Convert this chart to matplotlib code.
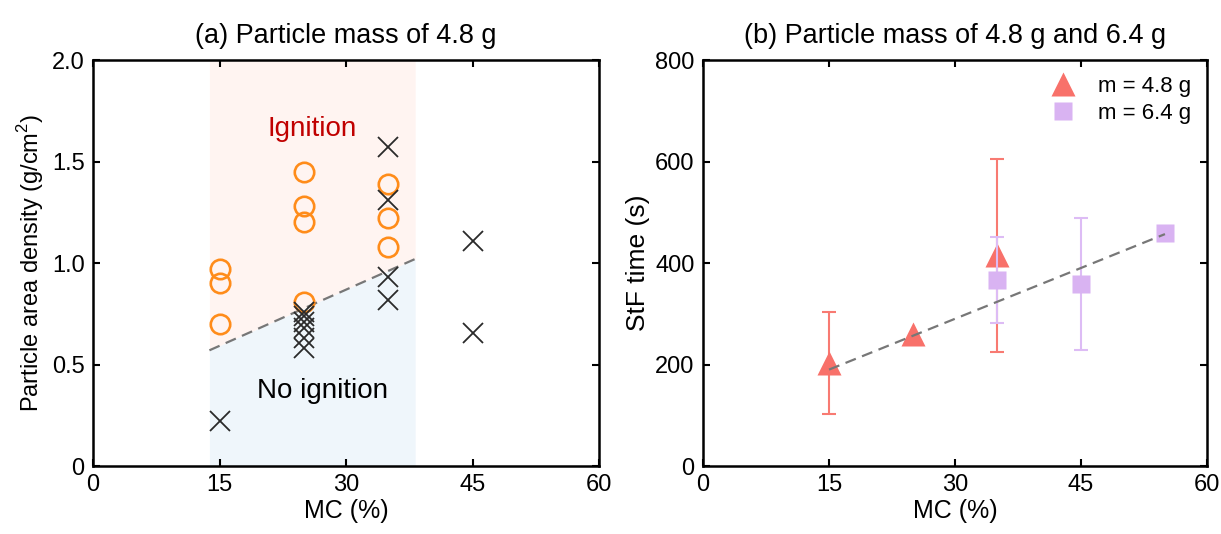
import numpy as np
import matplotlib
matplotlib.use("Agg")
import matplotlib.pyplot as plt

plt.rcParams["font.family"] = ["Liberation Sans", "DejaVu Sans"]
plt.rcParams["mathtext.fontset"] = "custom"
plt.rcParams["mathtext.rm"] = "Liberation Sans"

# (a) ignition map, particle mass 4.8 g
ign_mc = [15, 15, 15, 25, 25, 25, 25, 35, 35, 35]
ign_density = [0.97, 0.90, 0.70, 1.45, 1.28, 1.20, 0.81, 1.39, 1.22, 1.08]

noign_mc = [15, 25, 25, 25, 25, 25, 25, 35, 35, 35, 35, 45, 45]
noign_density = [0.22, 0.76, 0.74, 0.71, 0.68, 0.63, 0.58, 1.57, 1.31, 0.93, 0.82, 1.11, 0.655]

boundary_mc = [13.8, 38.2]
boundary_density = [0.57, 1.02]

# (b) StF time
mc_48 = [15, 25, 35]
stf_48 = [203, 260, 415]
err_48 = [100, np.nan, 190]

mc_64 = [35, 45, 55]
stf_64 = [366, 358, 459]
err_64 = [85, 130, np.nan]

fit_mc = [15, 55]
fit_stf = [190, 457]

x_ticks = [0, 15, 30, 45, 60]

fig = plt.figure(figsize=(12.21, 5.34), dpi=100)
ax1 = fig.add_axes([0.0762, 0.1273, 0.4144, 0.7603])
ax2 = fig.add_axes([0.5758, 0.1273, 0.4127, 0.7603])

for ax in (ax1, ax2):
    for s in ax.spines.values():
        s.set_linewidth(1.8)
    ax.tick_params(direction="in", length=5, width=1.5, top=True, right=True,
                   labelsize=17, pad=6)
    ax.set_xlim(0, 60)
    ax.set_xticks(x_ticks)
    ax.set_xlabel("MC (%)", fontsize=18, labelpad=2)

# shaded regions
bx = np.array(boundary_mc)
by = np.array(boundary_density)
ax1.fill_between(bx, by, 2.0, color="#FFF4F1", zorder=0, lw=0)
ax1.fill_between(bx, 0, by, color="#EFF6FB", zorder=0, lw=0)
ax1.plot(bx, by, ls=(0, (5, 3)), color="#777777", lw=1.6, zorder=1)

ax1.plot(ign_mc, ign_density, "o", ms=14, mfc="none", mec="#FF8C1A", mew=1.9, zorder=3)
ax1.plot(noign_mc, noign_density, "x", ms=14, color="#2a2a2a", mew=1.3, zorder=3)

ax1.text(26, 1.66, "Ignition", color="#C00000", fontsize=20, ha="center", va="center")
ax1.text(27.2, 0.37, "No ignition", color="black", fontsize=20, ha="center", va="center")

ax1.set_ylim(0, 2.0)
ax1.set_yticks([0, 0.5, 1.0, 1.5, 2.0])
ax1.set_yticklabels(["0", "0.5", "1.0", "1.5", "2.0"])
ax1.set_ylabel("Particle area density (g/cm$^2$)", fontsize=17)
ax1.set_title("(a) Particle mass of 4.8 g", fontsize=19.5, pad=12)

# (b)
ax2.plot(fit_mc, fit_stf, ls=(0, (5, 3)), color="#777777", lw=1.6, zorder=4)
ax2.errorbar(mc_48, stf_48, yerr=err_48, fmt="none", ecolor="#F87A72",
             elinewidth=1.5, capsize=5, capthick=1.5, zorder=2)
ax2.plot(mc_48, stf_48, "^", ms=17, color="#F8716A", mec="none", zorder=3,
         label="m = 4.8 g")
ax2.errorbar(mc_64, stf_64, yerr=err_64, fmt="none", ecolor="#DDBCF5",
             elinewidth=1.5, capsize=5, capthick=1.5, zorder=3.5)
ax2.plot(mc_64, stf_64, "s", ms=12.5, color="#D9B3F2", mec="none", zorder=3.6,
         label="m = 6.4 g")

ax2.set_ylim(0, 800)
ax2.set_yticks([0, 200, 400, 600, 800])
ax2.set_ylabel("StF time (s)", fontsize=19)
ax2.set_title("(b) Particle mass of 4.8 g and 6.4 g", fontsize=19.5, pad=12)
ax2.legend(loc="upper right", frameon=False, fontsize=16, handletextpad=0.6,
           borderaxespad=0.3, labelspacing=0.3)

fig.savefig("out.png", dpi=100)
